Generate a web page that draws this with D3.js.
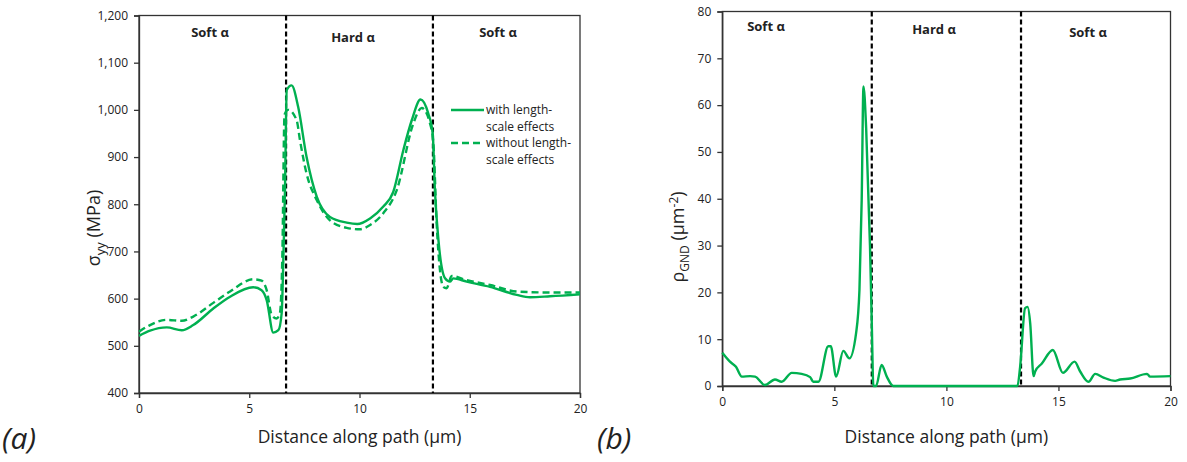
<!DOCTYPE html>
<html>
<head>
<meta charset="utf-8">
<script src="https://cdn.jsdelivr.net/npm/d3@7"></script>
<style>
  body { margin: 0; background: #fff; }
  svg text { font-family: "Open Sans", sans-serif; fill: #222; }
</style>
</head>
<body>
<div id="chart"></div>
<script>
  // ---- data : panel (a), stress sigma_yy (MPa) ----
  let withX = [0, 0.5, 1.26, 1.94, 2.46, 3.37, 4.13, 5.18, 5.56, 5.79, 6.09, 6.32, 6.47, 6.55, 6.62, 6.7, 6.92, 7.22, 7.6, 8.06, 8.66, 9.42, 9.9, 10.48, 11.08, 11.53, 11.99, 12.37, 12.77, 13.12, 13.32, 13.42, 13.58, 13.88, 14.1, 14.25, 14.86, 15.92, 17.13, 17.73, 18.64, 20]
  let withY = [521, 532, 539, 533, 544, 579, 604, 624, 618, 597, 528, 533, 569, 689, 830, 1042, 1052, 1006, 900, 816, 773, 761, 758, 770, 795, 826, 915, 978, 1022, 992, 950, 830, 724, 643, 636, 643, 636, 625, 608, 603, 605, 609]
  let withoutX = [0, 0.5, 1.26, 1.94, 2.46, 3.37, 4.13, 5.18, 5.56, 5.79, 6.02, 6.24, 6.39, 6.5, 6.6, 6.77, 7.15, 7.3, 7.6, 8.06, 8.66, 9.42, 10, 10.48, 11.08, 11.69, 12.44, 12.82, 13.2, 13.35, 13.5, 13.8, 13.95, 14.18, 14.86, 15.92, 17.13, 18.64, 20]
  let withoutY = [530, 544, 555, 553, 562, 591, 615, 641, 638, 618, 565, 558, 569, 689, 990, 1000, 978, 936, 865, 809, 766, 750, 747, 756, 781, 830, 971, 1004, 971, 929, 759, 625, 622, 648, 639, 629, 615, 613, 613]

  // ---- data : panel (b), GND density (um^-2) ----
  let gndX = [0, 0.34, 0.61, 0.87, 1.24, 1.46, 1.9, 2.35, 2.65, 3.1, 3.54, 3.92, 4.06, 4.29, 4.73, 4.84, 5.08, 5.4, 5.67, 5.97, 6.12, 6.22, 6.3, 6.42, 6.59, 6.67, 6.74, 6.86, 7.11, 7.34, 7.63, 13.17, 13.29, 13.51, 13.62, 13.74, 13.89, 13.96, 14.26, 14.75, 15.2, 15.72, 15.97, 16.34, 16.64, 17.01, 17.53, 17.75, 18.2, 18.95, 19.09, 20]
  let gndY = [7.1, 5.2, 4.1, 2.0, 2.1, 2.0, 0.2, 1.4, 0.9, 2.8, 2.6, 1.9, 0.9, 0.9, 8.5, 8.5, 2.0, 7.5, 5.9, 11.3, 20.5, 39.7, 64.0, 55, 30, 13.4, 0, 0, 4.5, 2.0, 0, 0, 4.1, 16.6, 16.9, 13.4, 2.1, 3.1, 4.8, 7.7, 2.8, 5.2, 3.1, 0.9, 2.6, 1.8, 1.1, 1.4, 1.6, 2.6, 2.0, 2.1]

  let xTicks = [0, 5, 10, 15, 20]
  let sigmaTicks = [400, 500, 600, 700, 800, 900, 1000, 1100, 1200]
  let rhoTicks = [0, 10, 20, 30, 40, 50, 60, 70, 80]
  let boundaries = [6.67, 13.33]
  let regionNames = ["Soft α", "Hard α", "Soft α"]
  let legendNames = [["with length-", "scale effects"], ["without length-", "scale effects"]]

  let green = "#00b050"
  let svg = d3.select("#chart").append("svg").attr("width", 1187).attr("height", 462)

  /* @@@ one panel : frame, axes, dividers, region labels @@@ */
  let panel = function (opt) {
    let x = d3.scaleLinear().domain([0, 20]).range([opt.left, opt.right])
    let y = d3.scaleLinear().domain(opt.yDomain).range([opt.bottom, opt.top])
    let g = svg.append("g")

    g.append("rect")
        .attr("x", opt.left).attr("y", opt.top)
        .attr("width", opt.right - opt.left).attr("height", opt.bottom - opt.top)
        .attr("fill", "none").attr("stroke", "#333").attr("stroke-width", 1.3)

    let xa = g.append("g").attr("transform", "translate(0," + opt.bottom + ")")
        .call(d3.axisBottom(x).tickValues(xTicks).tickSize(5).tickPadding(6))
    let ya = g.append("g").attr("transform", "translate(" + opt.left + ",0)")
        .call(d3.axisLeft(y).tickValues(opt.yTicks).tickSize(5).tickPadding(6).tickFormat(opt.fmt))
    ;[xa, ya].forEach(function (a) {
      a.selectAll("path,line").attr("stroke", "#333").attr("stroke-width", 1.3)
      a.selectAll("text").attr("font-size", 12).attr("font-family", "Open Sans").attr("fill", "#222")
    })

    g.selectAll(".div").data(boundaries).enter().append("line")
        .attr("x1", function (d) { return x(d) }).attr("x2", function (d) { return x(d) })
        .attr("y1", opt.top).attr("y2", opt.bottom)
        .attr("stroke", "#000").attr("stroke-width", 2.2).attr("stroke-dasharray", "5,3")

    g.selectAll(".reg").data(regionNames).enter().append("text")
        .attr("x", function (d, i) { return opt.regX[i] })
        .attr("y", function (d, i) { return opt.regY[i] })
        .attr("text-anchor", "middle").attr("font-size", 13).attr("font-weight", "bold")
        .text(function (d) { return d })

    g.append("text")
        .attr("x", (opt.left + opt.right) / 2).attr("y", 443)
        .attr("text-anchor", "middle").attr("font-size", 17.5)
        .text("Distance along path (μm)")

    return { x: x, y: y, g: g }
  }

  let lineOf = function (p, xs, ys) {
    return d3.line()
        .x(function (d) { return p.x(d[0]) })
        .y(function (d) { return p.y(d[1]) })
        .curve(d3.curveMonotoneX)(d3.zip(xs, ys))
  }

  // ---- panel (a) ----
  let pa = panel({ left: 139, right: 580, top: 15.5, bottom: 393, yDomain: [400, 1200], yTicks: sigmaTicks,
    fmt: d3.format(","), regX: [210, 353, 498], regY: [37, 42, 37] })

  pa.g.append("path").attr("d", lineOf(pa, withoutX, withoutY))
      .attr("fill", "none").attr("stroke", green).attr("stroke-width", 2.4).attr("stroke-dasharray", "7,4")
  pa.g.append("path").attr("d", lineOf(pa, withX, withY))
      .attr("fill", "none").attr("stroke", green).attr("stroke-width", 2.4)

  let lg = pa.g.append("g")
  legendNames.forEach(function (lines, i) {
    let ly = 110 + i * 33
    lg.append("line").attr("x1", 451).attr("x2", 484).attr("y1", ly).attr("y2", ly)
        .attr("stroke", green).attr("stroke-width", 2.4).attr("stroke-dasharray", i ? "7,4" : null)
    lines.forEach(function (t, j) {
      lg.append("text").attr("x", 486).attr("y", ly + 4 + j * 16.5).attr("font-size", 12).text(t)
    })
  })

  let ta = pa.g.append("text").attr("transform", "translate(100,228) rotate(-90)")
      .attr("text-anchor", "middle").attr("font-size", 18)
  ta.append("tspan").text("σ")
  ta.append("tspan").attr("font-size", 13).attr("dy", 5).text("yy")
  ta.append("tspan").attr("dy", -5).text(" (MPa)")

  // ---- panel (b) ----
  let pb = panel({ left: 722.3, right: 1170.5, top: 11.5, bottom: 386, yDomain: [0, 80], yTicks: rhoTicks,
    fmt: d3.format("d"), regX: [766, 934, 1088], regY: [31, 34, 37] })

  pb.g.append("path").attr("d", lineOf(pb, gndX, gndY))
      .attr("fill", "none").attr("stroke", green).attr("stroke-width", 2.4)

  let tb = pb.g.append("text").attr("transform", "translate(684,237) rotate(-90)")
      .attr("text-anchor", "middle").attr("font-size", 18)
  tb.append("tspan").text("ρ")
  tb.append("tspan").attr("font-size", 12).attr("dy", 5).text("GND")
  tb.append("tspan").attr("dy", -5).text(" (μm")
  tb.append("tspan").attr("font-size", 12).attr("dy", -6).text("-2")
  tb.append("tspan").attr("dy", 6).text(")")

  // ---- panel letters ----
  svg.append("text").attr("x", 2).attr("y", 449).attr("font-size", 30).attr("font-style", "italic").text("(a)")
  svg.append("text").attr("x", 597).attr("y", 449).attr("font-size", 30).attr("font-style", "italic").text("(b)")
</script>
</body>
</html>
